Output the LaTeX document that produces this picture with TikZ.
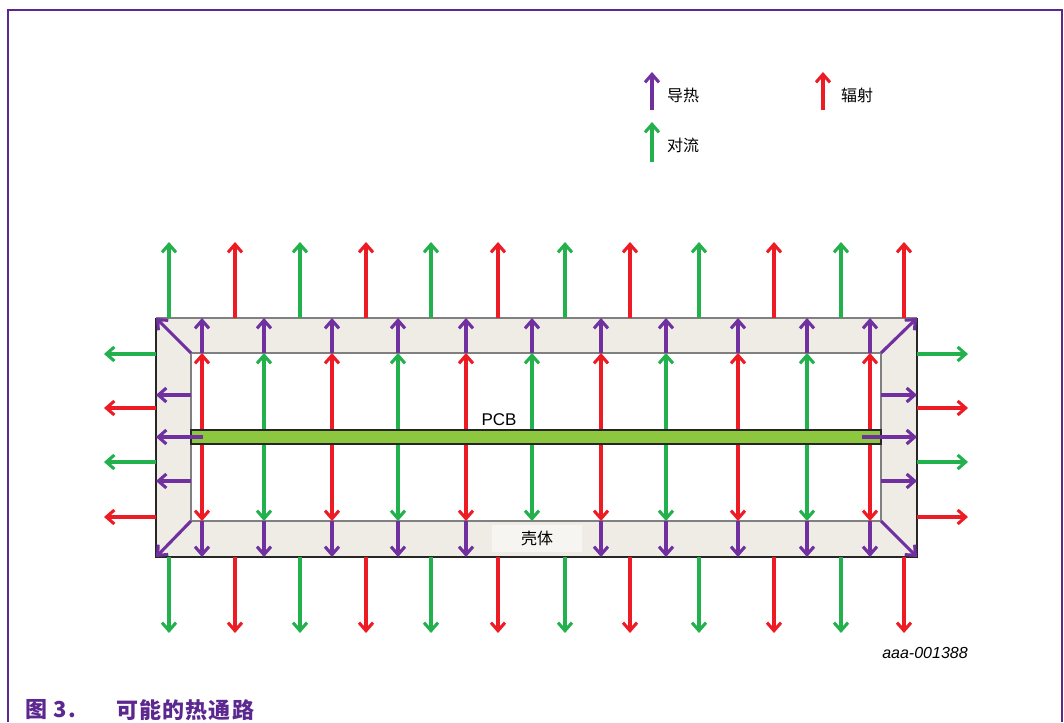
\documentclass[tikz,border=0pt]{standalone}
\usepackage{fontspec}
\setmainfont{Liberation Sans}
\newfontfamily\cjk{Noto Sans CJK SC}
\newfontfamily\cjkcap[LetterSpace=5]{Noto Sans CJK SC}
\usetikzlibrary{arrows.meta}
\definecolor{condcol}{RGB}{112,48,160}
\definecolor{convcol}{RGB}{34,177,76}
\definecolor{radcol}{RGB}{237,28,36}
\definecolor{wallcol}{RGB}{238,236,228}
\definecolor{pcbcol}{RGB}{141,198,63}
\definecolor{framecol}{RGB}{92,40,144}

\begin{document}
\begin{tikzpicture}[x=1pt,y=-1pt,>={Straight Barb[length=8pt,width=14pt]},
  heat/.style={->,line width=3.1pt},
  cond/.style={heat,draw=condcol},
  conv/.style={heat,draw=convcol},
  rad/.style={heat,draw=radcol},
  lbl/.style={font=\cjk\fontsize{16}{18}\selectfont,anchor=west,inner sep=0pt}]
\useasboundingbox (0,0) rectangle (1064,722);
% frame
\draw[framecol, line width=2pt] (8,722) -- (8,10) -- (1062,10) -- (1062,722);
% enclosure corners
\coordinate (oTL) at (156,318); \coordinate (oTR) at (917,318);
\coordinate (oBL) at (156,557); \coordinate (oBR) at (917,557);
\coordinate (iTL) at (191,353); \coordinate (iTR) at (881,353);
\coordinate (iBL) at (191,521); \coordinate (iBR) at (881,521);
\fill[wallcol, even odd rule] (oTL) rectangle (oBR) (iTL) rectangle (iBR);
\draw[black!85, line width=1.6pt] (oTR) -- (oBR) -- (oBL) -- (oTL);
\draw[black!50, line width=1.6pt] (oTL) -- (oTR);
\draw[black!50, line width=1.6pt] (iTL) rectangle (iBR);
% paths inside the case
\foreach \xc/\col in {202/rad,264/conv,332/rad,398/conv,466/rad,532/conv,601/rad,666/conv,738/rad,807/conv,870/rad} {
  \draw[\col,<->] (\xc,353) -- (\xc,521);
  \draw[cond] (\xc,353) -- (\xc,318);
}
\foreach \xc in {202,264,332,398,466,601,666,738,807,870}
  \draw[cond] (\xc,521) -- (\xc,557);
% board
\node[draw=black!85, fill=pcbcol, line width=1.2pt, minimum width=690pt, minimum height=14pt, inner sep=0pt] (pcb) at (536,437) {};
\node[font=\fontsize{17}{19}\selectfont] (pcblbl) at (499,420) {PCB};
\draw[cond] (203,437) -- (oBL |- pcb.west);
\draw[cond] (862,437) -- (oBR |- pcb.east);
\foreach \yc in {395,481} {
  \draw[cond] (191,\yc) -- (156,\yc);
  \draw[cond] (881,\yc) -- (917,\yc);
}
\draw[cond] (iTL) -- (oTL);
\draw[cond] (iTR) -- (oTR);
\draw[cond] (iBL) -- (oBL);
\draw[cond] (iBR) -- (oBR);
\node[fill=wallcol!50!white, minimum width=90pt, minimum height=27pt, font=\cjk\fontsize{16}{18}\selectfont] (shell) at (537,538) {壳体};
% paths leaving the case
\foreach \xc/\col in {169/conv,235/rad,300/conv,366/rad,431/conv,498/rad,565/conv,630/rad,699/conv,774/rad,841/conv,904/rad} {
  \draw[\col] (\xc,318) -- (\xc,242);
  \draw[\col] (\xc,557) -- (\xc,633);
}
\foreach \yc/\col in {354/conv,408/rad,462/conv,517/rad} {
  \draw[\col] (156,\yc) -- (104,\yc);
  \draw[\col] (917,\yc) -- (968,\yc);
}
% legend
\node[lbl] (condtxt) at (667,95) {导热};
\node[lbl] (convtxt) at (667,145) {对流};
\node[lbl] (radtxt) at (841,95) {辐射};
\draw[cond] (652,110) -- (652,72);
\draw[conv] (652,162) -- (652,122);
\draw[rad] (823,110) -- (823,72);
\node[font=\itshape\fontsize{16}{18}\selectfont] (figid) at (925,653) {aaa-001388};
\node[anchor=west, text=framecol, font=\cjkcap\bfseries\fontsize{22}{24}\selectfont] (capnum) at (22,710) {图 3.};
\node[anchor=west, text=framecol, font=\cjkcap\bfseries\fontsize{22}{24}\selectfont] (captitle) at (113,710) {可能的热通路};
\end{tikzpicture}
\end{document}
